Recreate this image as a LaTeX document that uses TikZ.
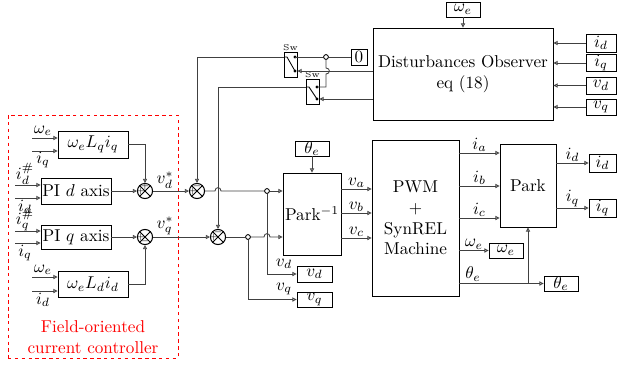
\documentclass[tikz,border=0pt]{standalone}
\usetikzlibrary{arrows.meta,calc}
\begin{document}
\begin{tikzpicture}[x=0.583pt,y=-0.583pt,
 ln/.style={draw=black!75, line width=0.5pt},
 arr/.style={ln, -{Triangle[open,length=2.4pt,width=2.4pt]}},
 rb/.style n args={4}{draw, line width=0.5pt, inner sep=0pt,
   minimum width={(#3-#1)*0.583pt}, minimum height={(#4-#2)*0.583pt},
   at={({(#1+#3)/2},{(#2+#4)/2})}},
 sumc/.style={circle, draw, line width=0.6pt, minimum size=8.8pt, inner sep=0pt},
 odot/.style={circle, draw, fill=white, line width=0.5pt, minimum size=2.8pt, inner sep=0pt},
 lab/.style={inner sep=0.5pt},
 sgn/.style={font=\fontsize{4}{4}\selectfont, inner sep=0pt},
 swlab/.style={font=\fontsize{5}{5}\selectfont, anchor=south, inner sep=0.6pt}]
\useasboundingbox (0,0) rectangle (617,365);

% ---------- field-oriented controller ----------
\node[rb={8}{115}{178}{358}, draw=red, dashed, dash pattern=on 2pt off 2pt] (foc) {};
\node[text=red, align=center, inner sep=0pt] (foclab) at (93,337) {Field-oriented\\current controller};

\node[rb={58}{131}{128}{158}] (wlq) {$\omega_e L_q i_q$};
\node[rb={41}{178}{111}{204}] (pid) {PI $d$ axis};
\node[rb={41}{225}{111}{249}] (piq) {PI $q$ axis};
\node[rb={58}{271}{128}{297}] (wld) {$\omega_e L_d i_d$};

\coordinate (a1) at (32,138); \coordinate (a2) at (32,151);
\coordinate (b1) at (15,185); \coordinate (b2) at (15,198);
\coordinate (c1q) at (15,231); \coordinate (c2q) at (15,243);
\coordinate (e1) at (32,277); \coordinate (e2) at (32,291);
\draw[arr] (a1) -- (a1 -| wlq.west);
\draw[arr] (a2) -- (a2 -| wlq.west);
\draw[arr] (b1) -- (b1 -| pid.west);
\draw[arr] (b2) -- (b2 -| pid.west);
\draw[arr] (c1q) -- (c1q -| piq.west);
\draw[arr] (c2q) -- (c2q -| piq.west);
\draw[arr] (e1) -- (e1 -| wld.west);
\draw[arr] (e2) -- (e2 -| wld.west);
\node[lab] (la1) at (43,131) {$\omega_e$};
\node[lab] (la2) at (43,160) {$i_q$};
\node[lab] (lb1) at (25,174) {$i_d^{\#}$};
\node[lab] (lb2) at (25,207) {$i_d$};
\node[lab] (lc1) at (25,220) {$i_q^{\#}$};
\node[lab] (lc2) at (25,253) {$i_q$};
\node[lab] (le1) at (43,270) {$\omega_e$};
\node[lab] (le2) at (43,300) {$i_d$};

% sums
\node[sumc] (sd1) at (145,191) {};
\node[sumc] (sq1) at (145,237) {};
\node[sumc] (sd2) at (197,191) {};
\node[sumc] (sq2) at (218,237) {};
\foreach \s in {sd1,sq1,sd2,sq2}{
  \draw[line width=0.5pt] (\s.north west) -- (\s.south east) (\s.north east) -- (\s.south west);
  \node[sgn] at ($(\s.center)+(-4.3,0)$) {$+$};
}
\node[sgn] at ($(sd1.center)+(0,-4.3)$) {$+$};
\node[sgn] at ($(sq1.center)+(0,4.3)$) {$-$};
\node[sgn] at ($(sd2.center)+(0,-4.3)$) {$-$};
\node[sgn] at ($(sq2.center)+(0,-4.3)$) {$-$};

\draw[arr] (wlq.east) -| (sd1.north);
\draw[arr] (pid.east) -- (sd1.west);
\draw[arr] (piq.east) -- (sq1.west);
\draw[arr] (wld.east) -| (sq1.south);
\draw[arr] (sd1.east) -- (sd2.west);
\draw[arr] (sq1.east) -- (sq2.west);
\node[lab] (lvd) at (165,180) {$v_d^*$};
\node[lab] (lvq) at (165,226) {$v_q^*$};

% ---------- inverse Park ----------
\node[rb={283}{173}{341}{255}] (pinv) {Park$^{-1}$};
\node[odot] (dd) at (267,191) {};
\node[odot] (dq) at (248,237) {};
\draw[ln] (sd2.east) -- (215,191) .. controls (215,186.5) and (221,186.5) .. (221,191) -- (dd);
\draw[arr] (dd) -- (dd -| pinv.west);
\draw[ln] (sq2.east) -- (dq);
\draw[arr] (dq) -- (264,237) .. controls (264,232.5) and (270,232.5) .. (270,237) -- (dq -| pinv.west);

\node[rb={297}{266}{332}{282}] (vdb) {$v_d$};
\node[rb={297}{292}{332}{307}] (vqb) {$v_q$};
\draw[arr] (dd) |- (vdb.west);
\draw[arr] (dq) |- (vqb.west);
\node[lab] (lvd2) at (284,264) {$v_d$};
\node[lab] (lvq2) at (284,289) {$v_q$};

\node[rb={295}{141}{329}{156}] (th1) {$\theta_e$};
\draw[arr] (th1.south) -- (pinv.north);

% ---------- PWM + machine ----------
\node[rb={372}{140}{459}{296}, align=center] (pwm) {PWM\\+\\SynREL\\Machine};
\draw[arr] (pinv.east |- 0,189) -- node[above, lab] {$v_a$} (pwm.west |- 0,189);
\draw[arr] (pinv.east |- 0,213) -- node[above, lab] {$v_b$} (pwm.west |- 0,213);
\draw[arr] (pinv.east |- 0,238) -- node[above, lab] {$v_c$} (pwm.west |- 0,238);

\node[rb={500}{144}{556}{227}] (park) {Park};
\draw[arr] (pwm.east |- 0,153) -- node[above, lab] {$i_a$} (park.west |- 0,153);
\draw[arr] (pwm.east |- 0,186) -- node[above, lab] {$i_b$} (park.west |- 0,186);
\draw[arr] (pwm.east |- 0,218) -- node[above, lab] {$i_c$} (park.west |- 0,218);

\node[rb={489}{243}{523}{258}] (weo) {$\omega_e$};
\draw[arr] (pwm.east |- weo.west) -- node[above, lab] {$\omega_e$} (weo.west);
\node[rb={544}{276}{578}{291}] (theo) {$\theta_e$};
\draw[arr] (pwm.east |- theo.west) -- (theo.west);
\node[lab] (lth) at (473,274) {$\theta_e$};
\draw[arr] (park.south |- theo.west) -- (park.south);

\node[rb={589}{154}{616}{172}] (idb) {$i_d$};
\node[rb={589}{199}{616}{217}] (iqb) {$i_q$};
\draw[arr] (park.east |- idb.west) -- node[above, lab] {$i_d$} (idb.west);
\draw[arr] (park.east |- iqb.west) -- node[above, lab] {$i_q$} (iqb.west);

% ---------- disturbance observer ----------
\node[rb={373}{28}{553}{120}, align=center] (obs) {Disturbances Observer\\eq (18)};
\node[rb={446}{2}{480}{17}] (weobs) {$\omega_e$};
\draw[arr] (weobs.south) -- (obs.north);
\node[rb={586}{34}{616}{52}] (oid) {$i_d$};
\node[rb={586}{55}{616}{71}] (oiq) {$i_q$};
\node[rb={586}{77}{616}{94}] (ovd) {$v_d$};
\node[rb={586}{99}{616}{115}] (ovq) {$v_q$};
\foreach \b in {oid,oiq,ovd,ovq}{
  \draw[arr] (\b.west) -- (\b.west -| obs.east);
}

% ---------- switches ----------
\node[rb={351}{49}{367}{65}] (zero) {$0$};
\node[odot] (c1) at (326,57) {};
\draw[ln] (zero.west) -- (c1);

\node[rb={284}{52}{297}{77}] (sw1) {};
\node[swlab] (sw1l) at (sw1.north) {Sw};
\coordinate (s1t) at (295,57); \coordinate (s1b) at (295,71); \coordinate (s1o) at (284,57);
\fill (s1t) circle (0.9pt); \fill (s1b) circle (0.9pt);
\draw[line width=0.5pt] (s1o) -- (287,57) -- (s1b);

\node[rb={306}{79}{319}{104}] (sw2) {};
\node[swlab] (sw2l) at (sw2.north) {Sw};
\coordinate (s2t) at (317,87); \coordinate (s2b) at (317,99); \coordinate (s2o) at (306,87);
\fill (s2t) circle (0.9pt); \fill (s2b) circle (0.9pt);
\draw[line width=0.5pt] (s2o) -- (309,87) -- (s2b);

\draw[ln] (c1) -- (s1t);
\draw[ln] (c1) -- (326,68) .. controls (330.5,68) and (330.5,74) .. (326,74) -- (326,87) -- (s2t);
\draw[arr] (obs.west |- s1b) -- (sw1.east |- s1b);
\draw[arr] (obs.west |- s2b) -- (sw2.east |- s2b);
\draw[arr] (s1o) -| (sd2.north);
\draw[arr] (s2o) -| (sq2.north);
\end{tikzpicture}
\end{document}
